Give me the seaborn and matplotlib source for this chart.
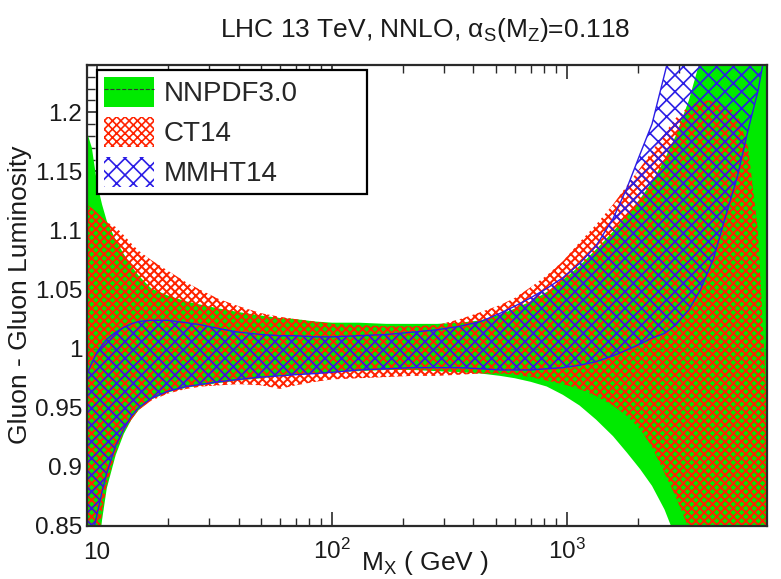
import matplotlib
matplotlib.use("Agg")
import matplotlib.pyplot as plt
import matplotlib.ticker as mticker
from matplotlib.patches import Patch
from matplotlib.lines import Line2D
import seaborn as sns

# M_X grid (GeV) shared by the three bands
mx = [9.0, 9.5, 10, 10.5, 11, 12, 13, 14, 15, 17, 20, 24, 28, 33, 40, 50, 60, 70, 85,
      100, 130, 170, 220, 280, 350, 430, 520, 600, 700, 820, 960, 1130, 1330, 1570,
      1800, 2050, 2300, 2600, 2900, 3300, 3700, 4200, 4700, 5300, 5900, 6500, 7100]

nnpdf_hi = [1.185, 1.170, 1.140, 1.122, 1.108, 1.092, 1.080, 1.070, 1.062, 1.051, 1.045,
            1.040, 1.037, 1.034, 1.031, 1.028, 1.026, 1.025, 1.023, 1.022, 1.022, 1.021,
            1.021, 1.021, 1.022, 1.024, 1.029, 1.034, 1.040, 1.048, 1.058, 1.070, 1.084,
            1.099, 1.113, 1.127, 1.141, 1.160, 1.180, 1.210, 1.245, 1.30, 1.35, 1.40,
            1.45, 1.50, 1.50]
nnpdf_lo = [0.70, 0.76, 0.82, 0.855, 0.882, 0.910, 0.928, 0.940, 0.948, 0.957, 0.963,
            0.967, 0.969, 0.971, 0.973, 0.975, 0.977, 0.978, 0.979, 0.980, 0.981, 0.982,
            0.982, 0.981, 0.980, 0.979, 0.977, 0.975, 0.972, 0.968, 0.961, 0.952, 0.940,
            0.926, 0.912, 0.898, 0.884, 0.864, 0.840, 0.800, 0.750, 0.70, 0.70, 0.70,
            0.70, 0.70, 0.70]

ct14_hi = [1.122, 1.119, 1.115, 1.111, 1.107, 1.103, 1.096, 1.089, 1.083, 1.075, 1.066,
           1.056, 1.049, 1.042, 1.036, 1.030, 1.027, 1.025, 1.023, 1.021, 1.020, 1.019,
           1.019, 1.020, 1.025, 1.031, 1.037, 1.043, 1.052, 1.062, 1.074, 1.090, 1.105,
           1.122, 1.138, 1.153, 1.167, 1.182, 1.195, 1.205, 1.210, 1.210, 1.205, 1.200,
           1.170, 1.100, 0.950]
ct14_lo = [0.72, 0.78, 0.83, 0.862, 0.885, 0.913, 0.930, 0.940, 0.948, 0.956, 0.962,
           0.966, 0.968, 0.969, 0.970, 0.969, 0.966, 0.969, 0.972, 0.974, 0.975, 0.976,
           0.977, 0.977, 0.978, 0.979, 0.979, 0.978, 0.976, 0.973, 0.970, 0.966, 0.960,
           0.952, 0.943, 0.932, 0.917, 0.895, 0.875, 0.848, 0.800, 0.75, 0.75, 0.75,
           0.75, 0.75, 0.75]

mmht_hi = [0.977, 0.988, 0.997, 1.003, 1.008, 1.014, 1.018, 1.021, 1.023, 1.024, 1.024,
           1.022, 1.020, 1.017, 1.014, 1.012, 1.011, 1.011, 1.010, 1.010, 1.011, 1.012,
           1.014, 1.016, 1.019, 1.023, 1.030, 1.036, 1.043, 1.051, 1.060, 1.072, 1.087,
           1.110, 1.136, 1.165, 1.190, 1.232, 1.270, 1.350, 1.45, 1.50, 1.50, 1.50,
           1.50, 1.50, 1.50]
mmht_lo = [0.78, 0.84, 0.860, 0.879, 0.895, 0.918, 0.932, 0.943, 0.950, 0.958, 0.964,
           0.968, 0.970, 0.972, 0.974, 0.976, 0.977, 0.978, 0.979, 0.980, 0.982, 0.983,
           0.984, 0.984, 0.984, 0.983, 0.982, 0.982, 0.982, 0.983, 0.984, 0.986, 0.989,
           0.994, 0.999, 1.004, 1.009, 1.013, 1.020, 1.033, 1.050, 1.076, 1.110, 1.145,
           1.185, 1.218, 1.260]

nnpdf_central = 1.0
names = ["NNPDF3.0", "CT14", "MMHT14"]
x_ticks = [10, 100, 1000]
x_ticklabels = ["10", r"10$^\mathregular{2}$", r"10$^\mathregular{3}$"]
y_ticks = [0.85, 0.9, 0.95, 1.0, 1.05, 1.1, 1.15, 1.2]
y_ticklabels = ["0.85", "0.9", "0.95", "1", "1.05", "1.1", "1.15", "1.2"]

sns.set_theme(style="ticks")
plt.rcParams['font.family'] = ['Liberation Sans', 'DejaVu Sans']
plt.rcParams['mathtext.fontset'] = 'custom'
plt.rcParams['mathtext.rm'] = 'Liberation Sans'
plt.rcParams['mathtext.it'] = 'Liberation Sans:italic'
plt.rcParams['mathtext.bf'] = 'Liberation Sans:bold'

green = '#00ea00'
red = '#ff2200'
blue = '#2b1de6'
ink = '#2a2a2a'
red_hatch, red_hlw = 'xxxx', 1.45
blue_hatch, blue_hlw = 'xx', 1.2

fig = plt.figure(figsize=(7.81, 5.79), dpi=100)
ax = fig.add_axes([87/781, 53/579, 680/781, 461/579])
ax.set_xscale('log')

ax.fill_between(mx, nnpdf_lo, nnpdf_hi, facecolor=green, edgecolor='none', lw=0, zorder=1)
ax.axhline(nnpdf_central, color='#444444', ls='--', lw=0.8, alpha=0.35, zorder=1.5)

plt.rcParams['hatch.linewidth'] = red_hlw
ct = ax.fill_between(mx, ct14_lo, ct14_hi, facecolor='none', edgecolor=red,
                     hatch=red_hatch, lw=0, zorder=2)
if hasattr(ct, 'set_hatch_linewidth'):
    ct.set_hatch_linewidth(red_hlw)

plt.rcParams['hatch.linewidth'] = blue_hlw
mm = ax.fill_between(mx, mmht_lo, mmht_hi, facecolor='none', edgecolor=blue,
                     hatch=blue_hatch, lw=0, zorder=3)
if hasattr(mm, 'set_hatch_linewidth'):
    mm.set_hatch_linewidth(blue_hlw)

for edge in (mmht_lo, mmht_hi):
    sns.lineplot(x=mx, y=edge, color=blue, lw=1.0, ax=ax, zorder=3.5, legend=False)

ax.set_xlim(9.06, 7100)
ax.set_ylim(0.85, 1.24)

ax.set_xticks(x_ticks)
ax.set_xticklabels(x_ticklabels)
ax.xaxis.set_minor_locator(mticker.LogLocator(base=10, subs=range(2, 10)))
ax.xaxis.set_minor_formatter(mticker.NullFormatter())
ax.set_yticks(y_ticks)
ax.set_yticklabels(y_ticklabels)
ax.yaxis.set_minor_locator(mticker.MultipleLocator(0.01))

ax.tick_params(which='major', direction='in', length=10, width=1.2, color=ink,
               top=True, right=True, labelsize=17.5, labelcolor='#1a1a1a')
ax.tick_params(which='minor', direction='in', length=5.5, width=1.0, color=ink,
               top=True, right=True)
ax.tick_params(axis='y', which='major', pad=3.5)
ax.tick_params(axis='x', which='major', pad=24)
for lab in ax.get_xticklabels():
    lab.set_verticalalignment('baseline')

for side in ax.spines.values():
    side.set_color(ink)
    side.set_linewidth(1.6)
    side.set_zorder(5)

fig.text(425/781, 1 - 37/579, r"LHC 13 TeV, NNLO, α$_\mathregular{S}$(M$_\mathregular{Z}$)=0.118",
         ha='center', va='baseline', fontsize=19, color='#1a1a1a')
fig.text(20/781, 1 - 295/579, "Gluon - Gluon Luminosity", rotation=90,
         ha='center', va='center', fontsize=19, color='#1a1a1a')
fig.text(425/781, 1 - 570/579, r"M$_\mathregular{X}$ ( GeV )",
         ha='center', va='baseline', fontsize=19, color='#1a1a1a')

h_nn = (Patch(facecolor=green, edgecolor='none', lw=0),
        Line2D([], [], color='#333333', ls='--', lw=0.8))
h_ct = Patch(facecolor='none', edgecolor=red, hatch=red_hatch, lw=0)
h_mm = Patch(facecolor='none', edgecolor=blue, hatch=blue_hatch, lw=0)
if hasattr(h_ct, 'set_hatch_linewidth'):
    h_ct.set_hatch_linewidth(red_hlw)
    h_mm.set_hatch_linewidth(blue_hlw)
leg = ax.legend([h_nn, h_ct, h_mm], names, loc='upper left', mode='expand',
                bbox_to_anchor=(97/781, 1 - 208/579, 270/781, 138/579),
                bbox_transform=fig.transFigure, borderaxespad=0, frameon=True,
                fancybox=False, framealpha=1, edgecolor='black', fontsize=20,
                handlelength=1.8, handleheight=1.26, labelspacing=0.36,
                handletextpad=0.36, borderpad=0.25)
leg.get_frame().set_linewidth(1.6)
leg.set_zorder(10)

fig.savefig("out.png", dpi=100)
